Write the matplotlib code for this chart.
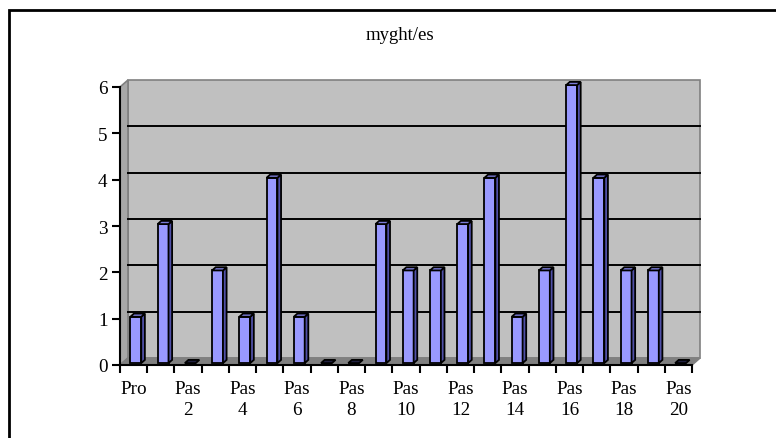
import matplotlib
matplotlib.use("Agg")
import matplotlib.pyplot as plt
from matplotlib.patches import Polygon, Rectangle

title = "myght/es"
categories = ["Pro"] + [f"Pas {i}" for i in range(1, 21)]
values = [1, 3, 0, 2, 1, 4, 1, 0, 0, 3, 2, 2, 3, 4, 1, 2, 6, 4, 2, 2, 0]
yticks = [0, 1, 2, 3, 4, 5, 6]

FONT = ["Liberation Serif", "DejaVu Serif"]
plt.rcParams["font.family"] = FONT

W, H = 776, 439
fig = plt.figure(figsize=(W / 100, H / 100), dpi=100)

# outer frame (only left/top visible in reference)
fig.patches.append(Rectangle((9 / W, -0.05), 2.0, (H - 11) / H + 0.05,
                             transform=fig.transFigure, fill=False,
                             edgecolor="black", linewidth=2))

ax = fig.add_axes([120 / W, (H - 366) / H, 572 / W, 278 / H])
n = len(categories)
ymax = 6
ax.set_xlim(0, n)
ax.set_ylim(0, ymax)

# depth offsets in data units
DX = 8 / 27.24
DY = 7 / 46.33

wall_kw = dict(edgecolor="#808080", linewidth=1.2, clip_on=False)
# back wall
ax.add_patch(Polygon([(DX, DY), (n + DX, DY), (n + DX, ymax + DY), (DX, ymax + DY)],
                     closed=True, facecolor="#C0C0C0", zorder=1, **wall_kw))
# left wall
ax.add_patch(Polygon([(0, 0), (DX, DY), (DX, ymax + DY), (0, ymax)],
                     closed=True, facecolor="#A8A8A8", zorder=1, **wall_kw))
# floor
ax.add_patch(Polygon([(0, 0), (n, 0), (n + DX, DY), (DX, DY)],
                     closed=True, facecolor="#808080", zorder=1, **wall_kw))

# gridlines on the back wall
for k in yticks[1:-1]:
    ax.plot([DX, n + DX], [k + DY, k + DY], color="black", linewidth=1.4,
            zorder=2, clip_on=False)

# bars
BW = 0.40        # front width in category units
BDX = 3.6 / 27.24
BDY = 3.2 / 46.33
OX = 0.5 * (DX - BDX)
OY = 0.5 * (DY - BDY)
edge = dict(edgecolor="black", linewidth=1.3, clip_on=False, zorder=3)
for i, v in enumerate(values):
    x0 = i + 0.5 - BW / 2 + OX
    x1 = x0 + BW
    y0 = OY
    y1 = v + OY
    if v > 0:
        # front
        ax.add_patch(Polygon([(x0, y0), (x1, y0), (x1, y1), (x0, y1)],
                             closed=True, facecolor="#9999FF", **edge))
        # side
        ax.add_patch(Polygon([(x1, y0), (x1 + BDX, y0 + BDY), (x1 + BDX, y1 + BDY), (x1, y1)],
                             closed=True, facecolor="#5050A8", **edge))
        topc = "#7A7AD6"
    else:
        topc = "#202040"
    # top
    ax.add_patch(Polygon([(x0, y1), (x1, y1), (x1 + BDX, y1 + BDY), (x0 + BDX, y1 + BDY)],
                         closed=True, facecolor=topc, **edge))

# axes styling
for s in ["top", "right"]:
    ax.spines[s].set_visible(False)
ax.spines["left"].set_linewidth(1.5)
ax.spines["bottom"].set_linewidth(1.5)
ax.spines["left"].set_zorder(4)
ax.spines["bottom"].set_zorder(4)
ax.patch.set_visible(False)

ax.set_yticks(yticks)
ax.set_yticklabels([str(t) for t in yticks])
ax.set_xticks(range(n + 1))
ax.set_xticklabels([])
ax.set_xticks([i + 0.5 for i in range(0, n, 2)], minor=True)
ax.set_xticklabels([c.replace(" ", "\n") for c in categories[::2]], minor=True,
                   linespacing=1.25, va="top")
ax.tick_params(axis="x", which="minor", length=0, pad=11, labelsize=13.8)
ax.tick_params(axis="x", which="major", length=6, width=1.5, direction="out")
ax.tick_params(axis="y", length=6, width=1.5, direction="out", pad=3, labelsize=13.8)

fig.text(400 / W, 1 - 35 / H, title, ha="center", va="center", fontsize=13.5)

fig.savefig("out.png", dpi=100)
